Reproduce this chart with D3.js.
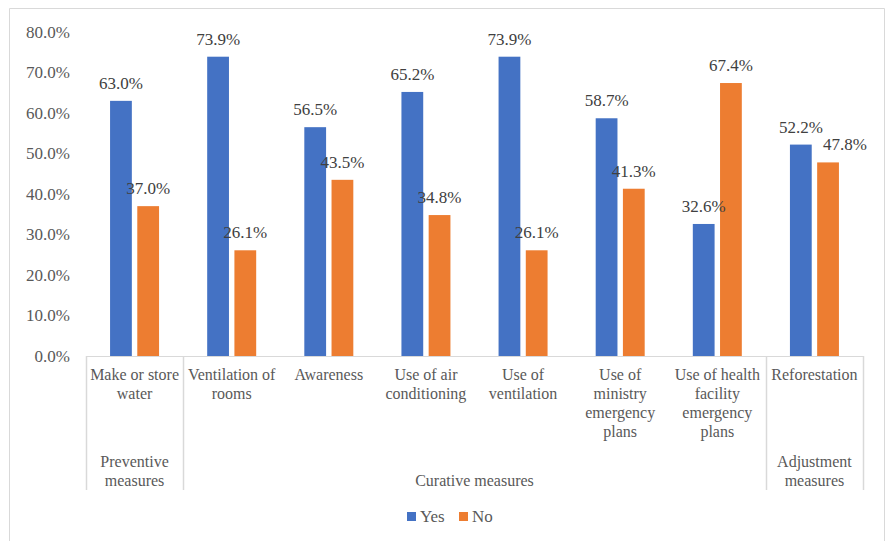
<!DOCTYPE html>
<html>
<head>
<meta charset="utf-8">
<script src="https://cdn.jsdelivr.net/npm/d3@7"></script>
<style>
  body { margin: 0; background: #fff; }
  svg text { font-family: "Liberation Serif", "Times New Roman", serif; }
</style>
</head>
<body>
<div id="chart"></div>
<script>
var categories = [
  ["Make or store", "water"],
  ["Ventilation of", "rooms"],
  ["Awareness"],
  ["Use of air", "conditioning"],
  ["Use of", "ventilation"],
  ["Use of", "ministry", "emergency", "plans"],
  ["Use of health", "facility", "emergency", "plans"],
  ["Reforestation"]
];
var groups = [
  {name: ["Preventive", "measures"], from: 0, to: 0},
  {name: ["Curative measures"], from: 1, to: 6},
  {name: ["Adjustment", "measures"], from: 7, to: 7}
];
var seriesNames = ["Yes", "No"];
var yesValues = [63.0, 73.9, 56.5, 65.2, 73.9, 58.7, 32.6, 52.2];
var noValues = [37.0, 26.1, 43.5, 34.8, 26.1, 41.3, 67.4, 47.8];
var yTicks = [0, 10, 20, 30, 40, 50, 60, 70, 80];
var palette = ["#4472c4", "#ed7d31"];

var width = 885, height = 541;
var plotLeft = 86, plotRight = 863, plotTop = 32, plotBottom = 356;

var svg = d3.select("#chart")
  .append("svg")
  .attr("width", width)
  .attr("height", height);

// chart frame
svg.append("path")
  .attr("d", "M9.5,541 V8.5 H884.5 V541")
  .attr("fill", "none")
  .attr("stroke", "#d9d9d9");

var x0 = d3.scaleBand()
  .domain(d3.range(categories.length))
  .range([plotLeft, plotRight]);

var x1 = d3.scaleBand()
  .domain(seriesNames)
  .range([-24.5, 24.5])
  .paddingInner(0.2);

var y = d3.scaleLinear()
  .domain([0, 80])
  .range([plotBottom, plotTop]);

// y tick labels
svg.selectAll(".ytick")
  .data(yTicks)
  .enter()
  .append("text")
  .attr("x", 70)
  .attr("y", function(d){ return y(d); })
  .attr("dy", "0.35em")
  .attr("text-anchor", "end")
  .attr("font-size", "17px")
  .attr("fill", "#595959")
  .text(function(d){ return d3.format(".1f")(d) + "%"; });

var rows = d3.range(categories.length).map(function(i){
  // nudge the No label right when it would collide with the Yes label
  var close = Math.abs(y(yesValues[i]) - y(noValues[i])) < 20;
  return [
    {cat: i, s: "Yes", v: yesValues[i], c: palette[0], dx: 0},
    {cat: i, s: "No", v: noValues[i], c: palette[1], dx: close ? 17 : 0}
  ];
});

var g = svg.selectAll(".grp")
  .data(rows)
  .enter()
  .append("g")
  .attr("transform", function(d, i){
    return "translate(" + (x0(i) + x0.bandwidth() / 2) + ",0)";
  });

g.selectAll("rect")
  .data(function(d){ return d; })
  .enter()
  .append("rect")
  .attr("x", function(d){ return x1(d.s); })
  .attr("width", x1.bandwidth())
  .attr("y", function(d){ return y(d.v); })
  .attr("height", function(d){ return plotBottom - y(d.v); })
  .attr("fill", function(d){ return d.c; });

g.selectAll("text")
  .data(function(d){ return d; })
  .enter()
  .append("text")
  .attr("x", function(d){ return x1(d.s) + x1.bandwidth() / 2 + d.dx; })
  .attr("y", function(d){ return y(d.v) - 12; })
  .attr("text-anchor", "middle")
  .attr("font-size", "17px")
  .attr("fill", "#404040")
  .text(function(d){ return d3.format(".1f")(d.v) + "%"; });

// x axis line
svg.append("line")
  .attr("x1", plotLeft).attr("x2", plotRight)
  .attr("y1", plotBottom + 0.5).attr("y2", plotBottom + 0.5)
  .attr("stroke", "#d9d9d9");

// group separators
var seps = [0];
groups.forEach(function(gr){ seps.push(gr.to + 1); });
svg.selectAll(".sep")
  .data(seps)
  .enter()
  .append("line")
  .attr("x1", function(d){ return Math.round(plotLeft + d * x0.step()) + 0.5; })
  .attr("x2", function(d){ return Math.round(plotLeft + d * x0.step()) + 0.5; })
  .attr("y1", plotBottom)
  .attr("y2", 490)
  .attr("stroke", "#d9d9d9")
  .attr("stroke-width", 1.5);

// category labels
var catText = svg.selectAll(".cat")
  .data(categories)
  .enter()
  .append("text")
  .attr("text-anchor", "middle")
  .attr("font-size", "16px")
  .attr("fill", "#595959");
catText.selectAll("tspan")
  .data(function(d, i){ return d.map(function(t){ return {t: t, i: i}; }); })
  .enter()
  .append("tspan")
  .attr("x", function(d){ return x0(d.i) + x0.bandwidth() / 2; })
  .attr("y", function(d, j){ return 380 + j * 19; })
  .text(function(d){ return d.t; });

// group labels
var grpText = svg.selectAll(".glab")
  .data(groups)
  .enter()
  .append("text")
  .attr("text-anchor", "middle")
  .attr("font-size", "16px")
  .attr("fill", "#595959");
grpText.selectAll("tspan")
  .data(function(d){
    var cx = (x0(d.from) + x0(d.to) + x0.bandwidth()) / 2;
    var n = d.name.length;
    return d.name.map(function(t, j){ return {t: t, cx: cx, yy: 486 - (n - 1 - j) * 19}; });
  })
  .enter()
  .append("tspan")
  .attr("x", function(d){ return d.cx; })
  .attr("y", function(d){ return d.yy; })
  .text(function(d){ return d.t; });

// legend
var legX = [407, 459];
var leg = svg.selectAll(".leg")
  .data(seriesNames)
  .enter()
  .append("g")
  .attr("transform", function(d, i){ return "translate(" + legX[i] + ",512)"; });
leg.append("rect")
  .attr("width", 9).attr("height", 9)
  .attr("fill", function(d, i){ return palette[i]; });
leg.append("text")
  .attr("x", 13)
  .attr("y", 10)
  .attr("font-size", "17px")
  .attr("fill", "#595959")
  .text(function(d){ return d; });
</script>
</body>
</html>
